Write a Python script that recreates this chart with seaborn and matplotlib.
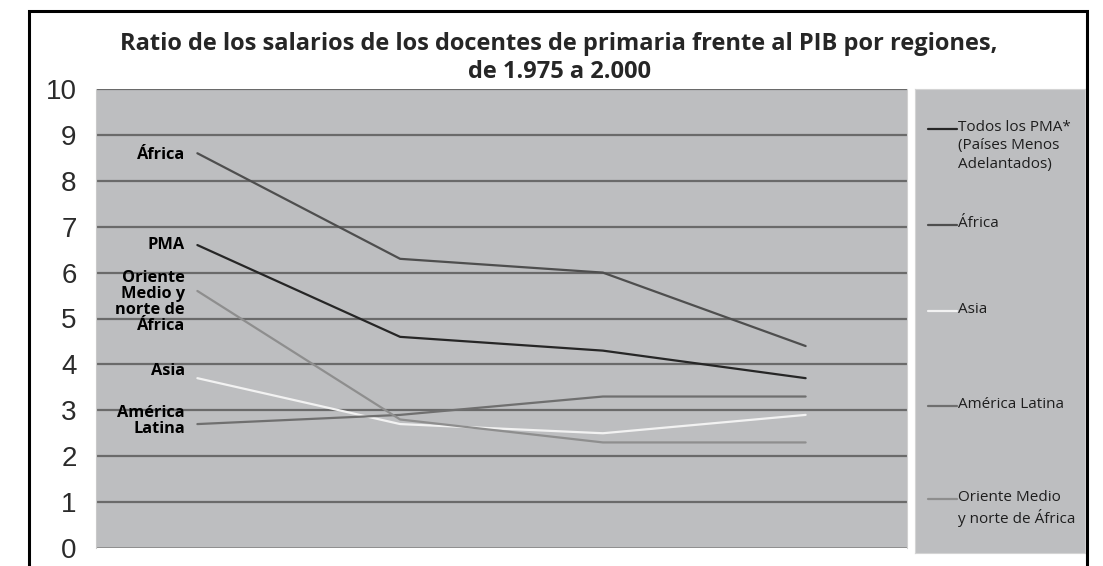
import pandas as pd
import matplotlib.pyplot as plt
import seaborn as sns
from matplotlib.patches import Rectangle
from matplotlib.lines import Line2D

# datos (4 cortes temporales, 1975 -> 2000)
periodos = ["1975", "1985", "1995", "2000"]
regiones = ["PMA", "África", "Asia", "América Latina", "Oriente Medio"]
pma = [6.6, 4.6, 4.3, 3.7]
africa = [8.6, 6.3, 6.0, 4.4]
asia = [3.7, 2.7, 2.5, 2.9]
america_latina = [2.7, 2.9, 3.3, 3.3]
oriente_medio = [5.6, 2.8, 2.3, 2.3]

etiquetas_linea = ["PMA", "África", "Asia", "América\nLatina", "Oriente\nMedio y\nnorte de\nÁfrica"]
etiquetas_leyenda = ["Todos los PMA*\n(Países Menos\nAdelantados)", "África", "Asia",
                     "América Latina", "Oriente Medio\ny norte de África"]
colores = ["#262626", "#4e4e4e", "#f2f2f2", "#6f6f6f", "#8e8e8e"]

series = [pma, africa, asia, america_latina, oriente_medio]
df = pd.DataFrame({
    "periodo": periodos * len(regiones),
    "region": [r for r in regiones for _ in periodos],
    "ratio": [v for s in series for v in s],
})

sns.set_style("white")
plt.rcParams['font.family'] = ['Open Sans', 'DejaVu Sans']

fig = plt.figure(figsize=(11.03, 5.66), dpi=100)
W, H = 1103, 566

# marco negro exterior
fig.patches.append(Rectangle((29 / W, -0.05), (1087 - 29) / W, 1.05 - 11 / H,
                             transform=fig.transFigure, fill=False,
                             edgecolor="black", linewidth=2.2))

ax = fig.add_axes([96 / W, (H - 548) / H, (907 - 96) / W, (548 - 89) / H])
ax.set_facecolor("#bdbec0")

sns.lineplot(data=df, x="periodo", y="ratio", hue="region", hue_order=regiones,
             palette=colores, linewidth=1.6, legend=False, ax=ax, sort=False)

ax.set_ylim(0, 10)
ax.set_xlim(-0.5, len(periodos) - 0.5)
ax.set_yticks(range(0, 11))
ax.set_xticks([i - 0.5 for i in range(len(periodos) + 1)])
ax.set_xticklabels([])
for y in range(1, 11):
    ax.axhline(y, color="#6a6a6a", linewidth=1.6, zorder=1)
ax.axhline(0, color="#8f8f8f", linewidth=1.4, zorder=1)
for s in ax.spines.values():
    s.set_visible(False)
ax.spines["left"].set_visible(True)
ax.spines["left"].set_color("#c9c9c9")
ax.spines["right"].set_visible(True)
ax.spines["right"].set_color("#d0d0d0")
ax.tick_params(axis="y", length=8, color="#cfcfcf", labelsize=20, labelcolor="#2b2b2b", pad=6)
ax.tick_params(axis="x", length=10, color="#d6d6d6", direction="out")
for lab in ax.get_yticklabels():
    lab.set_family("Liberation Sans")
ax.set_xlabel("")
ax.set_ylabel("")

# etiquetas junto al primer punto
offsets = [0.0, -0.04, 0.15, 0.07, -0.25]
for s, lab, off in zip(series, etiquetas_linea, offsets):
    ax.text(-0.062, s[0] + off, lab, ha="right", va="center", fontsize=11.8,
            fontweight="bold", linespacing=1.0, color="black")

fig.text(559 / W, 1 - 44 / H,
         "Ratio de los salarios de los docentes de primaria frente al PIB por regiones,",
         ha="center", va="center", fontsize=17, fontweight="bold")
fig.text(559 / W, 1 - 72 / H, "de 1.975 a 2.000",
         ha="center", va="center", fontsize=17, fontweight="bold")

# panel de leyenda
lax = fig.add_axes([915 / W, (H - 553) / H, (1085 - 915) / W, (553 - 89) / H])
lax.set_facecolor("#bdbec0")
lax.set_xlim(915, 1085)
lax.set_ylim(553, 89)
lax.set_xticks([])
lax.set_yticks([])
for s in lax.spines.values():
    s.set_color("#d4d4d4")
ley_y = [129, 225, 311, 406, 499]
for yy, lab, c in zip(ley_y, etiquetas_leyenda, colores):
    lax.add_line(Line2D([928, 957], [yy, yy], color=c, linewidth=1.6))
    lax.text(958, yy - 9, lab, ha="left", va="top", fontsize=11,
             color="#1e1e1e", linespacing=1.3)

fig.savefig("out.png", dpi=100)
